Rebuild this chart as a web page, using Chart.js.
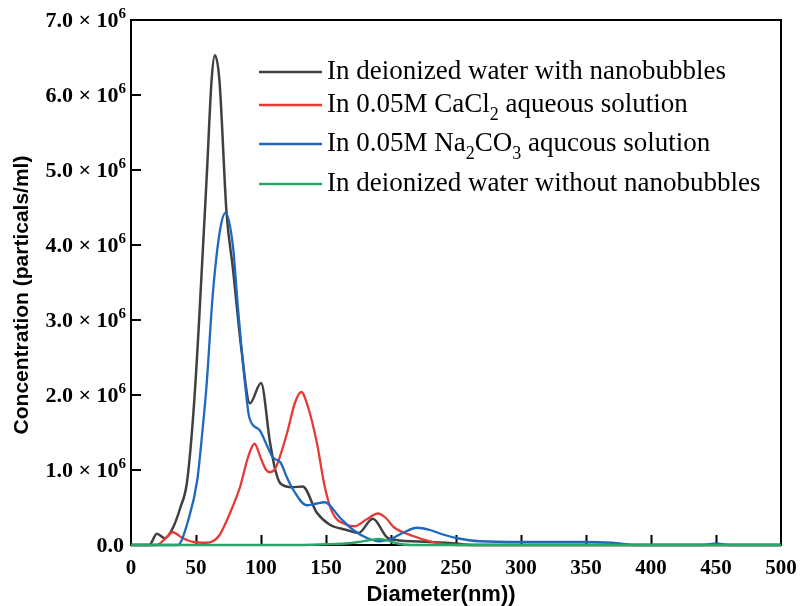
<!DOCTYPE html>
<html>
<head>
<meta charset="utf-8">
<style>
  html, body { margin: 0; padding: 0; background: #fff; }
  #wrap { position: relative; width: 800px; height: 606px; }
</style>
<script src="https://cdn.jsdelivr.net/npm/chart.js@4/dist/chart.umd.min.js"></script>
</head>
<body>
<div id="wrap"><canvas id="c" width="800" height="606"></canvas></div>
<script>
// Particle size distributions (diameter in nm, concentration in units of 10^6 particles/ml)
const diameterWithNB = [0, 14, 20, 26, 32, 38, 43, 48, 52, 58.5, 62, 64.5, 68, 73.5, 78.5, 85, 91.5, 100, 107, 111, 115, 124, 132, 143, 153, 166, 175, 186, 197, 203, 230, 250, 262, 500];
const concWithNB     = [0, 0, 0.15, 0.09, 0.22, 0.5, 0.83, 1.76, 2.87, 5.0, 6.2, 6.53, 6.2, 4.43, 3.67, 2.6, 1.89, 2.16, 1.36, 1.0, 0.82, 0.77, 0.78, 0.43, 0.27, 0.2, 0.16, 0.35, 0.1, 0.07, 0.04, 0.02, 0, 0];

const diameterCaCl2 = [0, 20, 26, 32, 40, 48, 58, 63, 68, 76, 84, 90, 95, 100, 104, 107, 111, 120, 126, 131, 136, 143, 149, 155, 166, 172, 181, 190, 196, 202, 217, 232, 250, 500];
const concCaCl2     = [0, 0, 0.08, 0.17, 0.09, 0.04, 0.03, 0.05, 0.13, 0.42, 0.78, 1.17, 1.35, 1.15, 1.0, 0.97, 1.02, 1.49, 1.89, 2.04, 1.85, 1.36, 0.78, 0.43, 0.27, 0.25, 0.34, 0.42, 0.36, 0.24, 0.12, 0.04, 0, 0];

const diameterNa2CO3 = [0, 36, 44, 51, 55, 58, 63, 68.5, 72.8, 78.5, 82, 88, 91, 99, 104, 109, 115, 120, 125, 135, 142, 149, 161, 171, 182, 191, 200, 210, 220, 230, 240, 251, 268, 300, 350, 370, 390, 440, 450, 460, 500];
const concNa2CO3     = [0, 0, 0.33, 0.87, 1.53, 2.1, 3.36, 4.2, 4.43, 3.97, 3.22, 2.1, 1.7, 1.53, 1.35, 1.17, 1.1, 0.9, 0.73, 0.53, 0.55, 0.57, 0.36, 0.2, 0.09, 0.05, 0.08, 0.17, 0.23, 0.2, 0.14, 0.09, 0.05, 0.04, 0.04, 0.03, 0, 0, 0.02, 0, 0];

const diameterNoNB = [0, 130, 150, 165, 175, 185, 190, 197, 205, 215, 500];
const concNoNB     = [0, 0, 0.01, 0.02, 0.04, 0.07, 0.08, 0.06, 0.02, 0, 0];

const xTicks = [0, 50, 100, 150, 200, 250, 300, 350, 400, 450, 500];
const yTicks = [0, 1, 2, 3, 4, 5, 6, 7];   // multiples of 10^6

const seriesNames = [
  [['In deionized water with nanobubbles', 0]],
  [['In 0.05M CaCl', 0], ['2', 1], [' aqueous solution', 0]],
  [['In 0.05M Na', 0], ['2', 1], ['CO', 0], ['3', 1], [' aqucous solution', 0]],
  [['In deionized water without nanobubbles', 0]]
];
const seriesColors = ['#404040', '#e63a34', '#1f68c0', '#2aa66a'];

const UNIT = 1e6;
function points(xs, ys) { return xs.map((d, i) => ({ x: d, y: ys[i] * UNIT })); }

const SERIF = '"Liberation Serif", "Times New Roman", serif';
const SANS = '"Liberation Sans", Arial, sans-serif';

// Frame with inward ticks, drawn under the curves
const frame = {
  id: 'frame',
  beforeDatasetsDraw(chart) {
    const { ctx, chartArea: a, scales: { x, y } } = chart;
    ctx.save();
    ctx.strokeStyle = '#000';
    ctx.lineWidth = 2;
    ctx.strokeRect(a.left, a.top, a.right - a.left, a.bottom - a.top);
    ctx.beginPath();
    xTicks.slice(1, -1).forEach(v => {
      const px = Math.round(x.getPixelForValue(v)) + 0.5;
      ctx.moveTo(px, a.bottom); ctx.lineTo(px, a.bottom - 10);
    });
    yTicks.slice(1, -1).forEach(v => {
      const py = Math.round(y.getPixelForValue(v * UNIT));
      ctx.moveTo(a.left, py); ctx.lineTo(a.left + 10, py);
    });
    ctx.stroke();
    ctx.restore();
  }
};

// Text runs: [text, kind] where kind 0 = normal, 1 = subscript, 2 = superscript
function drawRuns(ctx, runs, x, y, size, family, weight, align) {
  const fontFor = k => `${weight} ${k ? Math.round(size * 0.68) : size}px ${family}`;
  let total = 0;
  runs.forEach(([t, k]) => { ctx.font = fontFor(k); total += ctx.measureText(t).width; });
  let cx = align === 'right' ? x - total : (align === 'center' ? x - total / 2 : x);
  ctx.textAlign = 'left';
  ctx.textBaseline = 'alphabetic';
  runs.forEach(([t, k]) => {
    ctx.font = fontFor(k);
    const dy = k === 1 ? size * 0.28 : (k === 2 ? -size * 0.4 : 0);
    ctx.fillText(t, cx, y + dy);
    cx += ctx.measureText(t).width;
  });
}

const labels = {
  id: 'labels',
  afterDraw(chart) {
    const { ctx, chartArea: a, scales: { x, y } } = chart;
    ctx.save();
    ctx.fillStyle = '#000';
    // x tick labels
    xTicks.forEach(v => {
      drawRuns(ctx, [[String(v), 0]], x.getPixelForValue(v), a.bottom + 29, 21, SERIF, 'bold', 'center');
    });
    // y tick labels
    yTicks.forEach(v => {
      const py = y.getPixelForValue(v * UNIT);
      const runs = v === 0 ? [['0.0', 0]] : [[v.toFixed(1) + ' \u00d7 10', 0], ['6', 2]];
      const right = v === 0 ? 124 : 126;
      drawRuns(ctx, runs, right, py + 7, 22, SERIF, 'bold', 'right');
    });
    // axis titles
    ctx.font = `bold 22px ${SANS}`;
    ctx.textAlign = 'center';
    ctx.textBaseline = 'middle';
    ctx.fillText('Diameter(nm))', 441, 595);
    ctx.save();
    ctx.translate(22, 295);
    ctx.rotate(-Math.PI / 2);
    ctx.font = `bold 21px ${SANS}`;
    ctx.fillText('Concentration (particals/ml)', 0, 0);
    ctx.restore();
    // legend
    const rows = [72, 105, 144, 184];
    rows.forEach((ry, i) => {
      ctx.strokeStyle = seriesColors[i];
      ctx.lineWidth = 2.5;
      ctx.beginPath();
      ctx.moveTo(259, ry); ctx.lineTo(322, ry);
      ctx.stroke();
      ctx.fillStyle = '#000';
      drawRuns(ctx, seriesNames[i], 327, ry + 7, 27, SERIF, 'normal', 'left');
    });
    ctx.restore();
  }
};

const series = [
  [diameterWithNB, concWithNB],
  [diameterCaCl2, concCaCl2],
  [diameterNa2CO3, concNa2CO3],
  [diameterNoNB, concNoNB]
];

new Chart(document.getElementById('c'), {
  type: 'scatter',
  data: {
    datasets: series.map(([xs, ys], i) => ({
      label: seriesNames[i].map(r => r[0]).join(''),
      data: points(xs, ys),
      showLine: true,
      borderColor: seriesColors[i],
      backgroundColor: seriesColors[i],
      borderWidth: i === 0 ? 2.5 : 2.3,
      pointRadius: 0,
      cubicInterpolationMode: 'monotone',
      clip: 6,
      order: 4 - i
    }))
  },
  options: {
    responsive: false,
    animation: false,
    layout: { padding: { left: 131, right: 19, top: 20, bottom: 61 } },
    plugins: { legend: { display: false }, tooltip: { enabled: false } },
    scales: {
      x: { type: 'linear', min: 0, max: 500, display: false, ticks: { stepSize: 50 } },
      y: { type: 'linear', min: 0, max: 7 * UNIT, display: false, ticks: { stepSize: UNIT } }
    }
  },
  plugins: [frame, labels]
});
</script>
</body>
</html>
